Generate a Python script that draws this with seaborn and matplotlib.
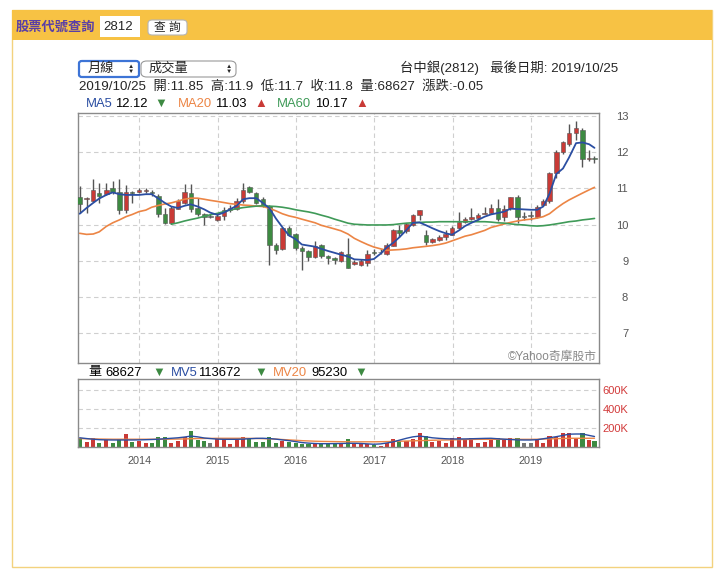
import numpy as np
import pandas as pd
import matplotlib
matplotlib.use("Agg")
import matplotlib.pyplot as plt
import matplotlib.dates as mdates
from matplotlib.patches import Rectangle, FancyBboxPatch
import seaborn as sns

sns.set_style("white")
plt.rcParams["font.family"] = ["Liberation Sans", "Noto Sans CJK TC", "DejaVu Sans"]

# 月線: 2013/03 ~ 2019/10 (每月最後交易日)
months = pd.date_range("2013-03-01", periods=80, freq="MS")
dates = months + pd.offsets.BMonthEnd(0)
dates = dates[:-1].append(pd.DatetimeIndex(["2019-10-25"]))

opens = [10.76, 10.70, 10.66, 10.87, 10.85, 11.00, 10.90, 10.39, 10.89, 10.90,
         10.92, 10.88, 10.80, 10.30, 10.04, 10.44, 10.60, 10.88, 10.45, 10.30,
         10.22, 10.13, 10.25, 10.40, 10.44, 10.64, 11.03, 10.87, 10.72, 10.51,
         9.43, 9.32, 9.90, 9.74, 9.35, 9.27, 9.11, 9.43, 9.13, 9.07,
         9.00, 9.20, 8.92, 8.89, 8.95, 9.22, 9.23, 9.19, 9.41, 9.85,
         9.81, 9.99, 10.27, 9.72, 9.53, 9.58, 9.67, 9.72, 9.90, 10.08,
         10.15, 10.18, 10.30, 10.33, 10.45, 10.20, 10.45, 10.76, 10.22, 10.25,
         10.20, 10.55, 10.66, 11.42, 12.00, 12.22, 12.52, 12.60, 11.80, 11.85]
highs = [11.07, 10.76, 11.26, 11.14, 11.16, 11.20, 11.25, 11.10, 10.92, 11.02,
         11.02, 10.96, 10.85, 10.45, 10.52, 10.72, 11.12, 11.12, 10.73, 10.32,
         10.29, 10.28, 10.50, 10.55, 10.73, 11.14, 11.08, 10.91, 10.76, 10.55,
         9.50, 9.93, 9.95, 9.78, 9.40, 9.29, 9.56, 9.47, 9.15, 9.10,
         9.27, 9.62, 9.02, 9.05, 9.30, 9.33, 9.32, 9.48, 9.87, 9.98,
         10.04, 10.28, 10.41, 9.86, 9.62, 9.70, 9.85, 9.95, 10.36, 10.20,
         10.47, 10.31, 10.48, 10.57, 10.70, 10.55, 10.76, 10.83, 10.36, 10.38,
         10.55, 10.72, 11.45, 12.05, 12.30, 12.78, 12.85, 12.68, 12.05, 11.90]
lows = [10.31, 10.32, 10.62, 10.60, 10.82, 10.85, 10.30, 10.33, 10.60, 10.87,
        10.88, 10.80, 10.20, 10.03, 10.02, 10.42, 10.58, 10.35, 10.24, 10.00,
        10.17, 10.10, 10.12, 10.34, 10.40, 10.60, 10.86, 10.57, 10.50, 8.88,
        9.20, 9.30, 9.68, 9.30, 8.74, 9.00, 9.08, 9.08, 8.90, 8.92,
        8.97, 8.79, 8.88, 8.85, 8.85, 9.15, 9.20, 9.17, 9.40, 9.65,
        9.78, 9.97, 10.14, 9.45, 9.50, 9.55, 9.57, 9.70, 9.87, 10.05,
        10.12, 10.13, 10.28, 10.30, 10.11, 10.09, 10.41, 10.04, 10.13, 10.12,
        10.17, 10.52, 10.60, 11.30, 11.95, 12.18, 12.35, 11.58, 11.75, 11.70]
closes = [10.57, 10.71, 10.96, 10.80, 10.96, 10.89, 10.40, 10.90, 10.88, 10.96,
          10.96, 10.87, 10.28, 10.05, 10.45, 10.64, 10.90, 10.44, 10.29, 10.20,
          10.22, 10.24, 10.41, 10.46, 10.65, 10.96, 10.89, 10.60, 10.54, 9.43,
          9.30, 9.90, 9.72, 9.35, 9.26, 9.11, 9.42, 9.13, 9.07, 9.01,
          9.24, 8.80, 8.97, 9.00, 9.19, 9.21, 9.25, 9.44, 9.85, 9.78,
          10.01, 10.27, 10.41, 9.53, 9.60, 9.67, 9.74, 9.90, 10.08, 10.16,
          10.22, 10.27, 10.32, 10.45, 10.15, 10.44, 10.76, 10.20, 10.22, 10.25,
          10.50, 10.66, 11.42, 12.00, 12.27, 12.52, 12.66, 11.80, 11.85, 11.80]

ma5 = [10.30, 10.46, 10.60, 10.72, 10.82, 10.89, 10.84, 10.82, 10.82, 10.82,
       10.84, 10.84, 10.72, 10.60, 10.50, 10.46, 10.52, 10.56, 10.50, 10.42,
       10.33, 10.27, 10.33, 10.42, 10.52, 10.70, 10.73, 10.73, 10.60, 10.45,
       10.17, 9.93, 9.70, 9.60, 9.45, 9.42, 9.39, 9.33, 9.27, 9.22,
       9.17, 9.12, 9.04, 9.03, 9.02, 9.05, 9.20, 9.37, 9.50, 9.65,
       9.85, 10.05, 10.06, 9.98, 9.90, 9.82, 9.76, 9.72, 9.84, 9.96,
       10.05, 10.13, 10.22, 10.28, 10.32, 10.36, 10.44, 10.43, 10.42, 10.41,
       10.41, 10.50, 10.85, 11.40, 11.55, 11.85, 12.25, 12.27, 12.22, 12.12]
ma20 = [9.76, 9.73, 9.74, 9.80, 9.95, 10.05, 10.13, 10.22, 10.28, 10.36,
        10.40, 10.48, 10.53, 10.57, 10.60, 10.65, 10.70, 10.73, 10.73, 10.70,
        10.67, 10.64, 10.61, 10.58, 10.56, 10.54, 10.53, 10.51, 10.50, 10.45,
        10.38, 10.30, 10.24, 10.20, 10.15, 10.10, 10.05, 9.98, 9.93, 9.88,
        9.83, 9.74, 9.62, 9.53, 9.45, 9.38, 9.33, 9.29, 9.30, 9.31,
        9.33, 9.36, 9.38, 9.40, 9.42, 9.45, 9.49, 9.55, 9.62, 9.68,
        9.72, 9.78, 9.84, 9.92, 9.97, 10.02, 10.06, 10.10, 10.13, 10.15,
        10.18, 10.22, 10.30, 10.45, 10.58, 10.68, 10.78, 10.87, 10.96, 11.03]
ma60 = [np.nan] * 14 + [
        10.01, 10.05, 10.10, 10.14, 10.18, 10.23,
        10.27, 10.31, 10.36, 10.40, 10.44, 10.47, 10.49, 10.51, 10.52, 10.51,
        10.50, 10.48, 10.45, 10.41, 10.38, 10.35, 10.31, 10.26, 10.21, 10.15,
        10.10, 10.04, 10.01, 10.00, 9.99, 9.99, 9.99, 9.99, 10.00, 10.02,
        10.04, 10.05, 10.06, 10.07, 10.07, 10.08, 10.08, 10.08, 10.08, 10.08,
        10.08, 10.08, 10.08, 10.07, 10.05, 10.04, 10.02, 10.00, 9.99, 9.97,
        9.96, 9.97, 9.99, 10.02, 10.05, 10.08, 10.10, 10.13, 10.15, 10.17]

# 成交量 (千張)
volume = [95, 59, 95, 48, 77, 48, 84, 140, 59, 70,
          48, 48, 112, 105, 48, 70, 112, 172, 77, 66,
          48, 95, 84, 31, 77, 105, 84, 59, 59, 105,
          48, 70, 59, 48, 35, 31, 48, 31, 31, 31,
          45, 84, 32, 32, 32, 24, 15, 42, 88, 66,
          70, 88, 154, 119, 59, 70, 48, 101, 112, 84,
          95, 48, 59, 77, 101, 77, 95, 101, 42, 48,
          84, 48, 122, 112, 147, 150, 95, 150, 77, 68.627]
mv5 = [100, 92, 85, 80, 78, 77, 77, 77, 77, 78,
       80, 82, 85, 90, 95, 100, 108, 118, 110, 98,
       92, 86, 84, 84, 84, 86, 90, 94, 95, 92,
       86, 78, 70, 60, 50, 44, 40, 38, 38, 39,
       40, 42, 42, 40, 36, 32, 36, 45, 58, 75,
       95, 110, 118, 110, 100, 94, 90, 88, 88, 88,
       90, 92, 94, 95, 90, 85, 82, 78, 77, 77,
       80, 90, 100, 112, 125, 138, 140, 140, 125, 113.672]
mv20 = [92, 90, 88, 87, 86, 85, 85, 85, 85, 85,
        85, 85, 85, 85, 86, 87, 88, 90, 92, 93,
        94, 95, 95, 95, 95, 95, 94, 93, 91, 89,
        86, 82, 78, 74, 70, 67, 64, 62, 61, 60,
        59, 58, 58, 58, 58, 58, 59, 60, 62, 64,
        66, 68, 70, 72, 74, 76, 77, 78, 80, 82,
        83, 84, 84, 84, 84, 84, 84, 84, 84, 84,
        85, 87, 89, 91, 93, 95, 95, 95, 95, 95.23]

years = [2014, 2015, 2016, 2017, 2018, 2019]

RED, GREEN, GRAY = "#c93a36", "#3d8a42", "#777777"
C_MA5, C_MA20, C_MA60 = "#2b4ea2", "#ec8545", "#3f9a58"

df = pd.DataFrame({"date": mdates.date2num(dates), "open": opens, "high": highs,
                   "low": lows, "close": closes, "ma5": ma5, "ma20": ma20,
                   "ma60": ma60, "vol": volume, "mv5": mv5, "mv20": mv20})
df["color"] = np.where(df["close"] > df["open"], RED,
                       np.where(df["close"] < df["open"], GREEN, GRAY))

W, H = 726, 577
fig = plt.figure(figsize=(W / 100, H / 100), dpi=100)


def fx(x):
    return x / W


def fy(y):
    return 1 - y / H


# 頁面外框與標題列
fig.add_artist(Rectangle((fx(12), fy(567)), fx(700), 557 / H, fill=False,
                         edgecolor="#f3d27e", lw=1, transform=fig.transFigure))
fig.add_artist(Rectangle((fx(12), fy(40)), fx(700), 30 / H, facecolor="#f7c244",
                         edgecolor="none", transform=fig.transFigure))
fig.text(fx(16), fy(27), "股票代號查詢", color="#5a3fa6", size=9.5, va="center",
         weight="bold")
fig.add_artist(Rectangle((fx(100), fy(37)), fx(40), 21 / H, facecolor="white",
                         edgecolor="none", transform=fig.transFigure))
fig.text(fx(103), fy(27), "2812", size=9.5, va="center")
fig.add_artist(FancyBboxPatch((fx(148), fy(35)), fx(39), 15 / H,
                              boxstyle="round,pad=0,rounding_size=0.006",
                              facecolor="white", edgecolor="#b5b5b5", lw=0.8,
                              transform=fig.transFigure))
fig.text(fx(167.5), fy(27.5), "查 詢", size=8.5, ha="center", va="center")

# 下拉選單
fig.add_artist(FancyBboxPatch((fx(79), fy(77)), fx(60), 16 / H,
                              boxstyle="round,pad=0,rounding_size=0.004",
                              facecolor="white", edgecolor="#3d74d6", lw=1.6,
                              transform=fig.transFigure))
fig.add_artist(FancyBboxPatch((fx(141), fy(77)), fx(95), 16 / H,
                              boxstyle="round,pad=0,rounding_size=0.008",
                              facecolor="white", edgecolor="#9a9a9a", lw=0.8,
                              transform=fig.transFigure))
fig.text(fx(88), fy(69), "月線", size=9.5, va="center")
fig.text(fx(149), fy(69), "成交量", size=9.5, va="center")
for ax_x in (131, 229):
    fig.text(fx(ax_x), fy(66.5), "▲", size=4.5, ha="center", va="center")
    fig.text(fx(ax_x), fy(71), "▼", size=4.5, ha="center", va="center")

fig.text(fx(618), fy(68), "台中銀(2812)   最後日期: 2019/10/25", size=9.6,
         ha="right", va="center")
fig.text(fx(79), fy(87), "2019/10/25  開:11.85  高:11.9  低:11.7  收:11.8  量:68627  漲跌:-0.05",
         size=9.6, va="center")

legend_ma = [("MA5", C_MA5, 86), ("12.12", "black", 115), ("▼", GREEN, 154),
             ("MA20", C_MA20, 178), ("11.03", "black", 215), ("▲", RED, 254),
             ("MA60", C_MA60, 277), ("10.17", "black", 315), ("▲", RED, 355)]
for s, c, x in legend_ma:
    fig.text(fx(x), fy(104), s, color=c, size=9.4, va="center")

legend_mv = [("量", "black", 88), ("68627", "black", 105), ("▼", GREEN, 152),
             ("MV5", C_MA5, 171), ("113672", "black", 198), ("▼", GREEN, 254),
             ("MV20", C_MA20, 273), ("95230", "black", 311), ("▼", GREEN, 354)]
for s, c, x in legend_mv:
    fig.text(fx(x), fy(372.5), s, color=c, size=9.4, va="center")

# 主圖: K線
ax = fig.add_axes([fx(78), fy(363), fx(521), 250 / H])
axv = fig.add_axes([fx(78), fy(447.3), fx(521), 68.3 / H], sharex=ax)

ax.vlines(df["date"], df["low"], df["high"], color="#555555", lw=1, zorder=2)
body_h = np.maximum((df["close"] - df["open"]).abs(), 0.025)
ax.bar(df["date"], body_h, bottom=np.minimum(df["open"], df["close"]), width=21,
       color=df["color"], edgecolor="#555555", lw=0.4, zorder=3)

sns.lineplot(data=df, x="date", y="ma20", ax=ax, color=C_MA20, lw=1.2, zorder=4)
sns.lineplot(data=df, x="date", y="ma60", ax=ax, color=C_MA60, lw=1.2, zorder=4)
sns.lineplot(data=df, x="date", y="ma5", ax=ax, color=C_MA5, lw=1.3, zorder=5)

ax.text(0.996, 0.025, "©Yahoo奇摩股市", transform=ax.transAxes, ha="right",
        va="center", color="#888888", size=8.5)

# 成交量
axv.bar(df["date"], df["vol"], width=19, color=df["color"], lw=0, zorder=2)
sns.lineplot(data=df, x="date", y="mv20", ax=axv, color=C_MA20, lw=1, zorder=3)
sns.lineplot(data=df, x="date", y="mv5", ax=axv, color=C_MA5, lw=1, zorder=4)

year_pos = [mdates.date2num(pd.Timestamp(f"{y}-01-01")) for y in years]
ax.set_xlim(mdates.date2num(pd.Timestamp("2013-03-21")),
            mdates.date2num(pd.Timestamp("2019-11-15")))
ax.set_ylim(6.177, 13.083)
axv.set_ylim(0, 719)

dash = (0, (4, 3))
for a in (ax, axv):
    a.set_xticks(year_pos)
    a.grid(True, ls=dash, color="#cfcfcf", lw=0.8)
    a.set_axisbelow(True)
    a.set_xlabel("")
    a.set_ylabel("")
    for sp in a.spines.values():
        sp.set_color("#8a8a8a")
        sp.set_linewidth(1)
    a.yaxis.tick_right()
    a.tick_params(axis="both", length=0)
    a.tick_params(axis="y", pad=21)

ax.set_yticks(range(7, 14))
ax.set_yticklabels([str(v) for v in range(7, 14)], color="#555555", size=8, ha="right")
ax.tick_params(axis="x", labelbottom=False)

axv.set_yticks([200, 400, 600])
axv.set_yticklabels(["200K", "400K", "600K"], color="#d23a3a", size=8, ha="right")
axv.set_xticklabels([str(y) for y in years], color="#555555", size=7.8)
axv.tick_params(axis="x", pad=6)

fig.savefig("out.png", dpi=100, facecolor="white")
